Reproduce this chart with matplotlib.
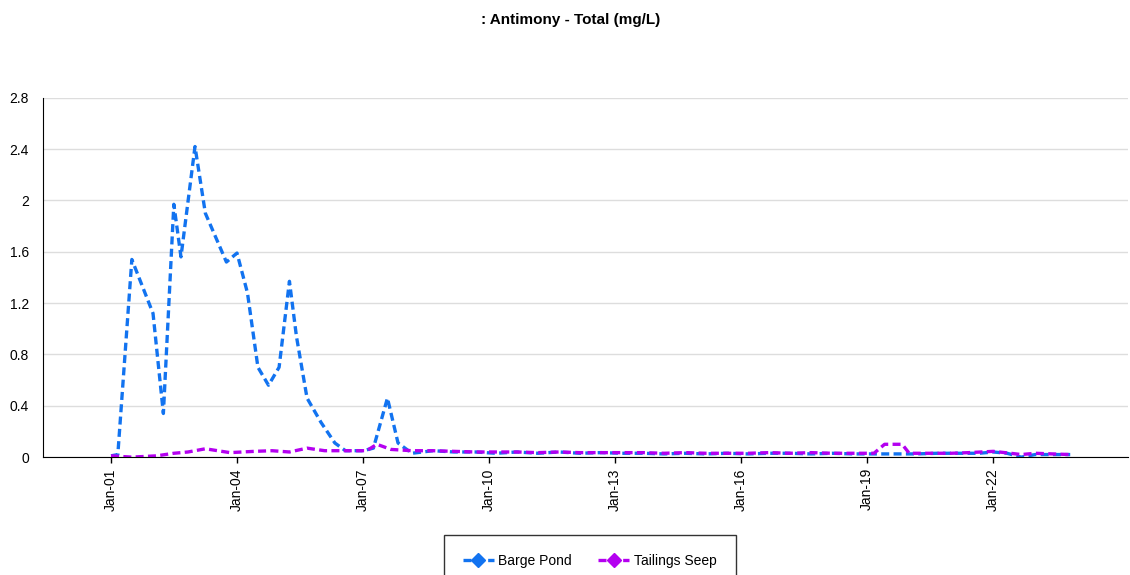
import pandas as pd
import matplotlib.pyplot as plt
from matplotlib.lines import Line2D

################################################################################
# Data

barge_dates = [
    "2001-01", "2001-03", "2001-07", "2002-01", "2002-04", "2002-07", "2002-09",
    "2003-01", "2003-04", "2003-10", "2004-01", "2004-04", "2004-07", "2004-10",
    "2005-01", "2005-04", "2005-06", "2005-09", "2006-01", "2006-05", "2006-08",
    "2007-01", "2007-04", "2007-08", "2007-11", "2008-03", "2008-09", "2009-03",
    "2009-09", "2010-03", "2010-09", "2011-03", "2011-09", "2012-03", "2012-09",
    "2013-03", "2013-09", "2014-03", "2014-09", "2015-03", "2015-09", "2016-03",
    "2016-09", "2017-03", "2017-09", "2018-03", "2018-09", "2019-03", "2019-09",
    "2020-03", "2020-09", "2021-03", "2021-09", "2022-01", "2022-05", "2022-09",
    "2023-01", "2023-05", "2023-11",
]
barge_values = [
    0.01, 0.02, 1.54, 1.12, 0.34, 1.97, 1.56,
    2.42, 1.90, 1.52, 1.59, 1.28, 0.70, 0.56,
    0.70, 1.37, 0.94, 0.46, 0.27, 0.11, 0.05,
    0.05, 0.07, 0.46, 0.11, 0.03, 0.05, 0.04,
    0.04, 0.03, 0.04, 0.03, 0.04, 0.03, 0.035,
    0.03, 0.03, 0.025, 0.03, 0.025, 0.03, 0.025,
    0.03, 0.03, 0.025, 0.03, 0.025, 0.025, 0.025,
    0.025, 0.03, 0.03, 0.03, 0.04, 0.03, 0.0,
    0.02, 0.02, 0.02,
]

seep_dates = [
    "2001-01", "2001-07", "2002-02", "2002-07", "2002-11", "2003-04", "2003-11",
    "2004-06", "2004-11", "2005-04", "2005-09", "2006-02", "2006-09", "2007-02",
    "2007-05", "2007-09", "2008-03", "2008-09", "2009-03", "2009-09", "2010-03",
    "2010-09", "2011-03", "2011-09", "2012-03", "2012-09", "2013-03", "2013-09",
    "2014-03", "2014-09", "2015-03", "2015-09", "2016-03", "2016-09", "2017-03",
    "2017-09", "2018-03", "2018-09", "2019-03", "2019-06", "2019-11", "2020-01",
    "2020-06", "2021-01", "2021-06", "2022-01", "2022-06", "2022-09", "2023-01",
    "2023-06", "2023-11",
]
seep_values = [
    0.01, 0.0, 0.01, 0.03, 0.04, 0.065, 0.035,
    0.045, 0.05, 0.04, 0.07, 0.05, 0.05, 0.05,
    0.10, 0.06, 0.05, 0.05, 0.045, 0.04, 0.04,
    0.04, 0.035, 0.04, 0.035, 0.035, 0.035, 0.035,
    0.03, 0.035, 0.03, 0.03, 0.03, 0.035, 0.03,
    0.035, 0.03, 0.03, 0.03, 0.10, 0.10, 0.03,
    0.03, 0.03, 0.035, 0.045, 0.03, 0.02, 0.03,
    0.025, 0.02,
]

tick_years = [2001, 2004, 2007, 2010, 2013, 2016, 2019, 2022]

BLUE = "#1273f0"
PURPLE = "#b400f0"

################################################################################
# Plot

plt.rcParams["font.family"] = ["Liberation Sans", "DejaVu Sans"]

fig = plt.figure(figsize=(11.3, 5.75), dpi=100)
ax = fig.add_axes([0.038, 0.205, 0.96, 0.625])

ax.plot(pd.to_datetime(barge_dates), barge_values, color=BLUE, lw=2.4,
        dashes=(2.4, 1.3), label="Barge Pond")
ax.plot(pd.to_datetime(seep_dates), seep_values, color=PURPLE, lw=2.4,
        dashes=(2.4, 1.3), label="Tailings Seep")

ax.set_ylim(0, 2.8)
ax.set_yticks([0, 0.4, 0.8, 1.2, 1.6, 2, 2.4, 2.8])
ax.set_yticklabels(["0", "0.4", "0.8", "1.2", "1.6", "2", "2.4", "2.8"])
ax.set_xlim(pd.Timestamp("1999-05-20"), pd.Timestamp("2025-03-15"))

ticks = [pd.Timestamp(f"{y}-01-01") for y in tick_years]
ax.set_xticks(ticks)
ax.set_xticklabels([f"Jan-{y % 100:02d}" for y in tick_years], rotation=90)

ax.grid(axis="y", color="#dddddd", lw=1)
ax.set_axisbelow(True)
for s in ["top", "right"]:
    ax.spines[s].set_visible(False)
ax.spines["left"].set_color("black")
ax.spines["bottom"].set_color("black")
ax.tick_params(axis="y", length=0, pad=10, labelsize=10)
ax.tick_params(axis="x", length=4, width=1, pad=4, labelsize=10)

fig.text(0.505, 0.966, ": Antimony - Total (mg/L)", ha="center", va="center",
         fontsize=11, fontweight="bold")

handles = [
    Line2D([], [], color=BLUE, lw=2.4, dashes=(2.4, 1.3), marker="D",
           markersize=7),
    Line2D([], [], color=PURPLE, lw=2.4, dashes=(2.4, 1.3), marker="D",
           markersize=7),
]
fig.legend(handles, ["Barge Pond", "Tailings Seep"], loc="upper center",
           bbox_to_anchor=(0.522, 0.07), ncol=2, frameon=True, fancybox=False,
           edgecolor="black", fontsize=10, handlelength=2.2,
           handletextpad=0.35, columnspacing=1.9, borderpad=1.4,
           borderaxespad=0)

fig.savefig("out.png", dpi=100)
